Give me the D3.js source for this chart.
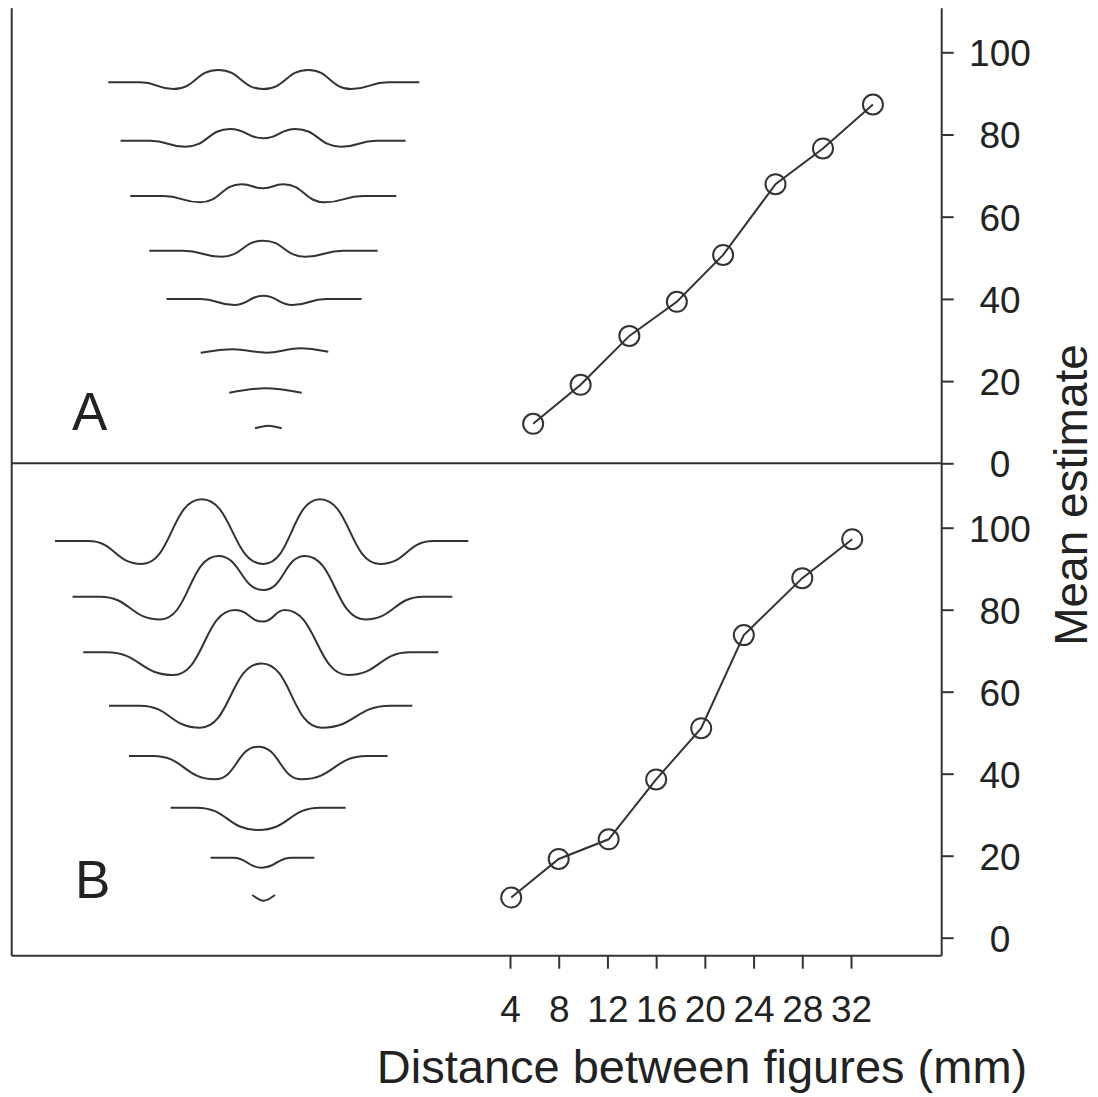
<!DOCTYPE html>
<html>
<head>
<meta charset="utf-8">
<script src="https://cdn.jsdelivr.net/npm/d3@7"></script>
<style>
  body { margin: 0; background: #fff; }
  svg { display: block; }
  text { font-family: Arial, "Liberation Sans", sans-serif; fill: #222; }
</style>
</head>
<body>
<div id="chart"></div>
<script>
// x axis (mm) and y axis (mean estimate) ticks
const distTicks = [4, 8, 12, 16, 20, 24, 28, 32];
const estTicks = [0, 20, 40, 60, 80, 100];

// panel A series
const distA = [5.9, 9.8, 13.8, 17.7, 21.5, 25.8, 29.7, 33.8];
const estA = [9.6, 19.1, 31.0, 39.3, 50.7, 67.9, 76.6, 87.3];

// panel B series
const distB = [4.1, 8.0, 12.1, 16.0, 19.7, 23.2, 28.0, 32.1];
const estB = [9.8, 19.2, 24.0, 38.6, 51.1, 73.8, 87.7, 97.2];

// stimulus profiles: [offset from centre, height above baseline]
const profilesA = [
  [[-155,0],[-123,0],[-90,-6.7],[-45,12.3],[0,-6.7],[45,12.3],[88,-6.7],[125,0],[156,0]],
  [[-142.7,0],[-113,0],[-78,-6],[-33,11.7],[0,2.4],[32,11.7],[78,-6],[113,0],[142.3,0]],
  [[-133,0],[-100,0],[-63,-6.3],[-21.7,11.7],[0,7.7],[20,11.7],[61.7,-6.3],[100,0],[133,0]],
  [[-114,0],[-80,0],[-41.7,-6],[0,10],[41.7,-6],[80,0],[114.3,0]],
  [[-96.7,0],[-63,0],[-29,-6],[0,3.3],[29,-6],[63,0],[98.3,0]],
  [[-62.6,-2.7],[-30,0.7],[3.4,-2.7],[36.7,1.7],[65,-1.7]],
  [[-34,0],[1.7,4.4],[38.4,0]],
  [[-8.3,0],[5,2.6],[18.4,0]]
];
const profilesB = [
  [[-208.3,0],[-175,0],[-121.7,-23],[-61.7,41.7],[0,-23],[56.7,41.7],[116.7,-23],[170,0],[205,0]],
  [[-190.7,0],[-163.3,0],[-103.3,-22.7],[-45,40.7],[0,6.7],[41.7,40.7],[101.7,-22.7],[160,0],[189,0]],
  [[-180,0],[-156.7,0],[-90,-22.7],[-28.3,42.3],[0,30.7],[21.7,42.3],[85,-22.7],[146.7,0],[175,0]],
  [[-154.3,0],[-123.3,0],[-63.3,-22],[-1.7,42.3],[58.3,-22],[126.7,0],[149,0]],
  [[-134.3,0],[-110,0],[-48.3,-23.3],[-5,9.3],[38.3,-23.3],[103.3,0],[124.3,0]],
  [[-92.7,0],[-66.7,0],[-5,-22.3],[56.7,0],[82.3,0]],
  [[-52.7,0],[-30,0],[-1.7,-10],[28.3,0],[51,0]],
  [[-11,0],[0.3,-5.7],[11.7,0]]
];

// layout
const width = 1098, height = 1097;
const frame = { left: 11.7, right: 941.7, top: 8.3, mid: 463.3, bottom: 955.7 };
const rowBaseA = [82.3, 140.7, 196, 250.7, 299, 350, 392.7, 428.3];
const rowBaseB = [541, 596.7, 652.3, 705.7, 756, 807.7, 857.7, 895];
const figCentre = 263.3;
const ink = "#333";

const svg = d3.select("#chart").append("svg")
  .attr("width", width)
  .attr("height", height);

const x = d3.scaleLinear().domain([4, 32]).range([510, 851]);
const yA = d3.scaleLinear().domain([0, 100]).range([463.3, 52.3]);
const yB = d3.scaleLinear().domain([0, 100]).range([937.7, 527.7]);

// frame
const frameLines = [
  [frame.left, frame.top, frame.left, frame.bottom],
  [frame.left, frame.bottom, frame.right, frame.bottom],
  [frame.right, frame.top, frame.right, frame.bottom],
  [frame.left, frame.mid, frame.right, frame.mid]
];
svg.append("g").selectAll("line")
  .data(frameLines)
  .join("line")
  .attr("x1", d => d[0]).attr("y1", d => d[1])
  .attr("x2", d => d[2]).attr("y2", d => d[3])
  .attr("stroke", ink)
  .attr("stroke-width", 2);

// right y axes
function yAxis(scale) {
  const g = svg.append("g")
    .attr("transform", `translate(${frame.right},0)`)
    .call(d3.axisRight(scale).tickValues(estTicks).tickSize(12).tickSizeOuter(0));
  g.select(".domain").remove();
  g.selectAll(".tick line").attr("stroke", ink).attr("stroke-width", 2);
  g.selectAll(".tick text")
    .attr("x", 58.3)
    .attr("dy", "0.36em")
    .attr("text-anchor", "middle")
    .style("font-size", "37px")
    .attr("fill", "#222");
}
yAxis(yA);
yAxis(yB);

// bottom x axis
const xg = svg.append("g")
  .attr("transform", `translate(0,${frame.bottom})`)
  .call(d3.axisBottom(x).tickValues(distTicks).tickSize(13).tickSizeOuter(0));
xg.select(".domain").remove();
xg.selectAll(".tick line").attr("stroke", ink).attr("stroke-width", 2);
xg.selectAll(".tick text")
  .attr("y", 66)
  .attr("dy", 0)
  .style("font-size", "37px")
  .attr("fill", "#222");

// axis titles
svg.append("text")
  .attr("x", 702)
  .attr("y", 1083)
  .attr("text-anchor", "middle")
  .style("font-size", "47px")
  .text("Distance between figures (mm)");

svg.append("text")
  .attr("transform", "translate(1087,495) rotate(-90)")
  .attr("text-anchor", "middle")
  .style("font-size", "46px")
  .text("Mean estimate");

// panel letters
svg.append("text").attr("x", 72).attr("y", 430).style("font-size", "53px").text("A");
svg.append("text").attr("x", 75).attr("y", 898).style("font-size", "53px").text("B");

// data lines with open circles
function series(dist, est, yScale) {
  const pts = dist.map((d, i) => ({ x: d, y: est[i] }));
  const line = d3.line().x(d => x(d.x)).y(d => yScale(d.y));
  svg.append("path")
    .datum(pts)
    .attr("fill", "none")
    .attr("stroke", ink)
    .attr("stroke-width", 2)
    .attr("d", line);
  svg.append("g").selectAll("circle")
    .data(pts)
    .join("circle")
    .attr("cx", d => x(d.x))
    .attr("cy", d => yScale(d.y))
    .attr("r", 10)
    .attr("fill", "none")
    .attr("stroke", ink)
    .attr("stroke-width", 2);
}
series(distA, estA, yA);
series(distB, estB, yB);

// stimulus profile drawings
const figX = d3.scaleLinear().domain([0, 100]).range([figCentre, figCentre + 100]);
function profiles(list, bases) {
  list.forEach((prof, i) => {
    const figY = d3.scaleLinear().domain([0, 10]).range([bases[i], bases[i] - 10]);
    // flat-shouldered profiles use bump curves (round crests), small arcs use monotone
    const flat = prof.length > 3 && prof[0][1] === prof[1][1];
    const line = d3.line()
      .x(d => figX(d[0]))
      .y(d => figY(d[1]))
      .curve(flat ? d3.curveBumpX : d3.curveMonotoneX);
    svg.append("path")
      .datum(prof)
      .attr("fill", "none")
      .attr("stroke", ink)
      .attr("stroke-width", 2)
      .attr("d", line);
  });
}
profiles(profilesA, rowBaseA);
profiles(profilesB, rowBaseB);
</script>
</body>
</html>
